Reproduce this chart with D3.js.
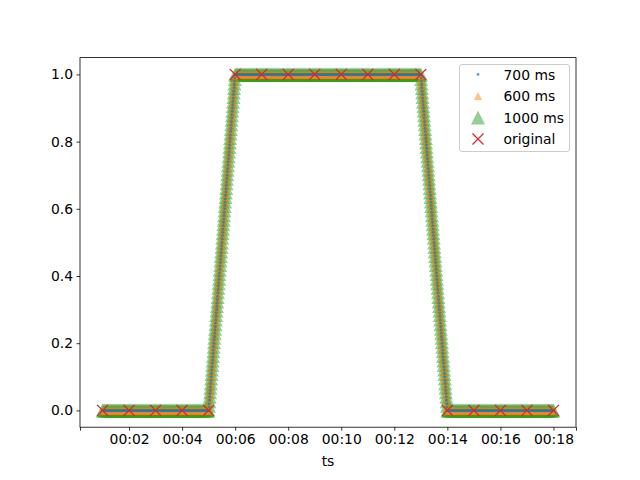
<!DOCTYPE html>
<html><head><meta charset="utf-8">
<script src="https://cdn.jsdelivr.net/npm/d3@7/dist/d3.min.js"></script>
<style>body{margin:0;background:#fff;} svg{display:block;} text{font-family:"DejaVu Sans",sans-serif;}</style>
</head><body>
<svg id="chart" width="640" height="480"></svg>
<script>
// ---- data ----
const origSeconds = [1,2,3,4,5,6,7,8,9,10,11,12,13,14,15,16,17,18];
const origValues  = [0,0,0,0,0,1,1,1,1,1,1,1,1,0,0,0,0,0];
const seriesLabels = ["700 ms","600 ms","1000 ms","original"];
const knotSeconds = [1,5,6,13,14,18];
const values700  = [0,0,1,1,0,0];
const values600  = [0,0,1,1,0,0];
const values1000 = [0,0,1,1,0,0];
const xTickSeconds = [2,4,6,8,10,12,14,16,18];
const xTickLabels = ["00:02","00:04","00:06","00:08","00:10","00:12","00:14","00:16","00:18"];
const yTickValues = [0.0,0.2,0.4,0.6,0.8,1.0];
const yTickLabels = ["0.0","0.2","0.4","0.6","0.8","1.0"];
const xDomainSeconds = [0.15,18.85];
const yDomain = [-0.05,1.05];

// ---- layout ----
const L=80,R=576,T=57.6,B=427.2;
const svg=d3.select("#chart");
const base=new Date(2000,0,1,0,0,0).getTime();
const toDate=s=>new Date(base+s*1000);
const x=d3.scaleTime().domain(xDomainSeconds.map(toDate)).range([L,R]);
const y=d3.scaleLinear().domain(yDomain).range([B,T]);
const fs=13.9;

const plot=svg.append("g");
plot.append("clipPath").attr("id","clip").append("rect").attr("x",L).attr("y",T).attr("width",R-L).attr("height",B-T);

// marker positions drawn along the polyline of the knots (pixel spacing)
function markerPositions(times, vals, gap){
  const pts=times.map((t,i)=>[x(toDate(t)),y(vals[i])]);
  const out=[];
  for(let i=0;i<pts.length-1;i++){
    const [x0,y0]=pts[i],[x1,y1]=pts[i+1];
    const len=Math.hypot(x1-x0,y1-y0);
    const n=Math.max(Math.ceil(Math.abs(x1-x0)/1),Math.ceil(len/gap),1);
    for(let k=0;k<n;k++){const f=k/n;out.push([x0+(x1-x0)*f,y0+(y1-y0)*f]);}
  }
  out.push(pts[pts.length-1]);
  return out;
}
const tri=s=>`M0,${-s/2}L${-s/2},${s/2}L${s/2},${s/2}Z`;
const xPath=s=>`M${-s/2},${-s/2}L${s/2},${s/2}M${-s/2},${s/2}L${s/2},${-s/2}`;

const colors={blue:"#1f77b4",orange:"#ff7f0e",green:"#2ca02c",red:"#d62728"};
const gSeries=plot.append("g").attr("clip-path","url(#clip)");
// green 1000 ms
gSeries.append("g").selectAll("path").data(markerPositions(knotSeconds,values1000,4.6)).join("path")
  .attr("d",tri(14)).attr("transform",d=>`translate(${d[0]},${d[1]})`)
  .attr("fill",colors.green).attr("fill-opacity",0.5);
// orange 600 ms
gSeries.append("g").selectAll("path").data(markerPositions(knotSeconds,values600,3.9)).join("path")
  .attr("d",tri(8.5)).attr("transform",d=>`translate(${d[0]},${d[1]})`)
  .attr("fill",colors.orange).attr("fill-opacity",0.5);
// blue 700 ms
gSeries.append("g").selectAll("circle").data(markerPositions(knotSeconds,values700,3.4)).join("circle")
  .attr("cx",d=>d[0]).attr("cy",d=>d[1]).attr("r",1.5)
  .attr("fill",colors.blue).attr("fill-opacity",0.7);
// original
gSeries.append("g").selectAll("path").data(origSeconds.map((t,i)=>[t,origValues[i]])).join("path")
  .attr("d",xPath(11)).attr("transform",d=>`translate(${x(toDate(d[0]))},${y(d[1])})`)
  .attr("fill","none").attr("stroke",colors.red).attr("stroke-width",1.3);

// ---- axes ----
const xTicksAll=[xDomainSeconds[0],...xTickSeconds,xDomainSeconds[1]];
const xAxis=d3.axisBottom(x).tickValues(xTicksAll.map(toDate)).tickSizeOuter(0).tickSize(3.5).tickPadding(3.5)
  .tickFormat(d=>{const s=(d.getTime()-base)/1000;const i=xTickSeconds.indexOf(Math.round(s*1000)/1000);return i>=0?xTickLabels[i]:"";});
const gx=svg.append("g").attr("transform",`translate(0,${B})`).call(xAxis);
gx.select(".domain").remove();
gx.selectAll(".tick line").attr("stroke","#000").attr("stroke-width",0.8);
gx.selectAll(".tick text").attr("fill","#000").attr("font-size",fs).attr("font-family","DejaVu Sans");

const yAxis=d3.axisLeft(y).tickValues(yTickValues).tickSizeOuter(0).tickSize(3.5).tickPadding(3.5)
  .tickFormat((d,i)=>yTickLabels[i]);
const gy=svg.append("g").attr("transform",`translate(${L},0)`).call(yAxis);
gy.select(".domain").remove();
gy.selectAll(".tick line").attr("stroke","#000").attr("stroke-width",0.8);
gy.selectAll(".tick text").attr("fill","#000").attr("font-size",fs).attr("font-family","DejaVu Sans");

svg.append("rect").attr("x",L).attr("y",T).attr("width",R-L).attr("height",B-T)
  .attr("fill","none").attr("stroke","#000").attr("stroke-width",0.8);

svg.append("text").attr("x",(L+R)/2).attr("y",466).attr("text-anchor","middle")
  .attr("font-size",fs).attr("fill","#000").text("ts");

// ---- legend ----
const lg=svg.append("g");
lg.append("rect").attr("x",459.5).attr("y",64.5).attr("width",110).attr("height",87).attr("rx",2.5)
  .attr("fill","#fff").attr("fill-opacity",0.8).attr("stroke","#cccccc").attr("stroke-width",1);
const rowY=[74.5,96,117.5,139];
const mx=478;
lg.append("circle").attr("cx",mx).attr("cy",rowY[0]).attr("r",1.4).attr("fill",colors.blue).attr("fill-opacity",0.7);
lg.append("path").attr("d",tri(8)).attr("transform",`translate(${mx},${rowY[1]})`).attr("fill",colors.orange).attr("fill-opacity",0.5);
lg.append("path").attr("d",tri(14)).attr("transform",`translate(${mx},${rowY[2]})`).attr("fill",colors.green).attr("fill-opacity",0.5);
lg.append("path").attr("d",xPath(11)).attr("transform",`translate(${mx},${rowY[3]})`).attr("fill","none").attr("stroke",colors.red).attr("stroke-width",1.2);
lg.selectAll("text.lab").data(seriesLabels).join("text").attr("class","lab")
  .attr("x",503.5).attr("y",(d,i)=>rowY[i]).attr("dy","0.36em").attr("font-size",fs).attr("fill","#000").text(d=>d);
</script>
</body></html>
